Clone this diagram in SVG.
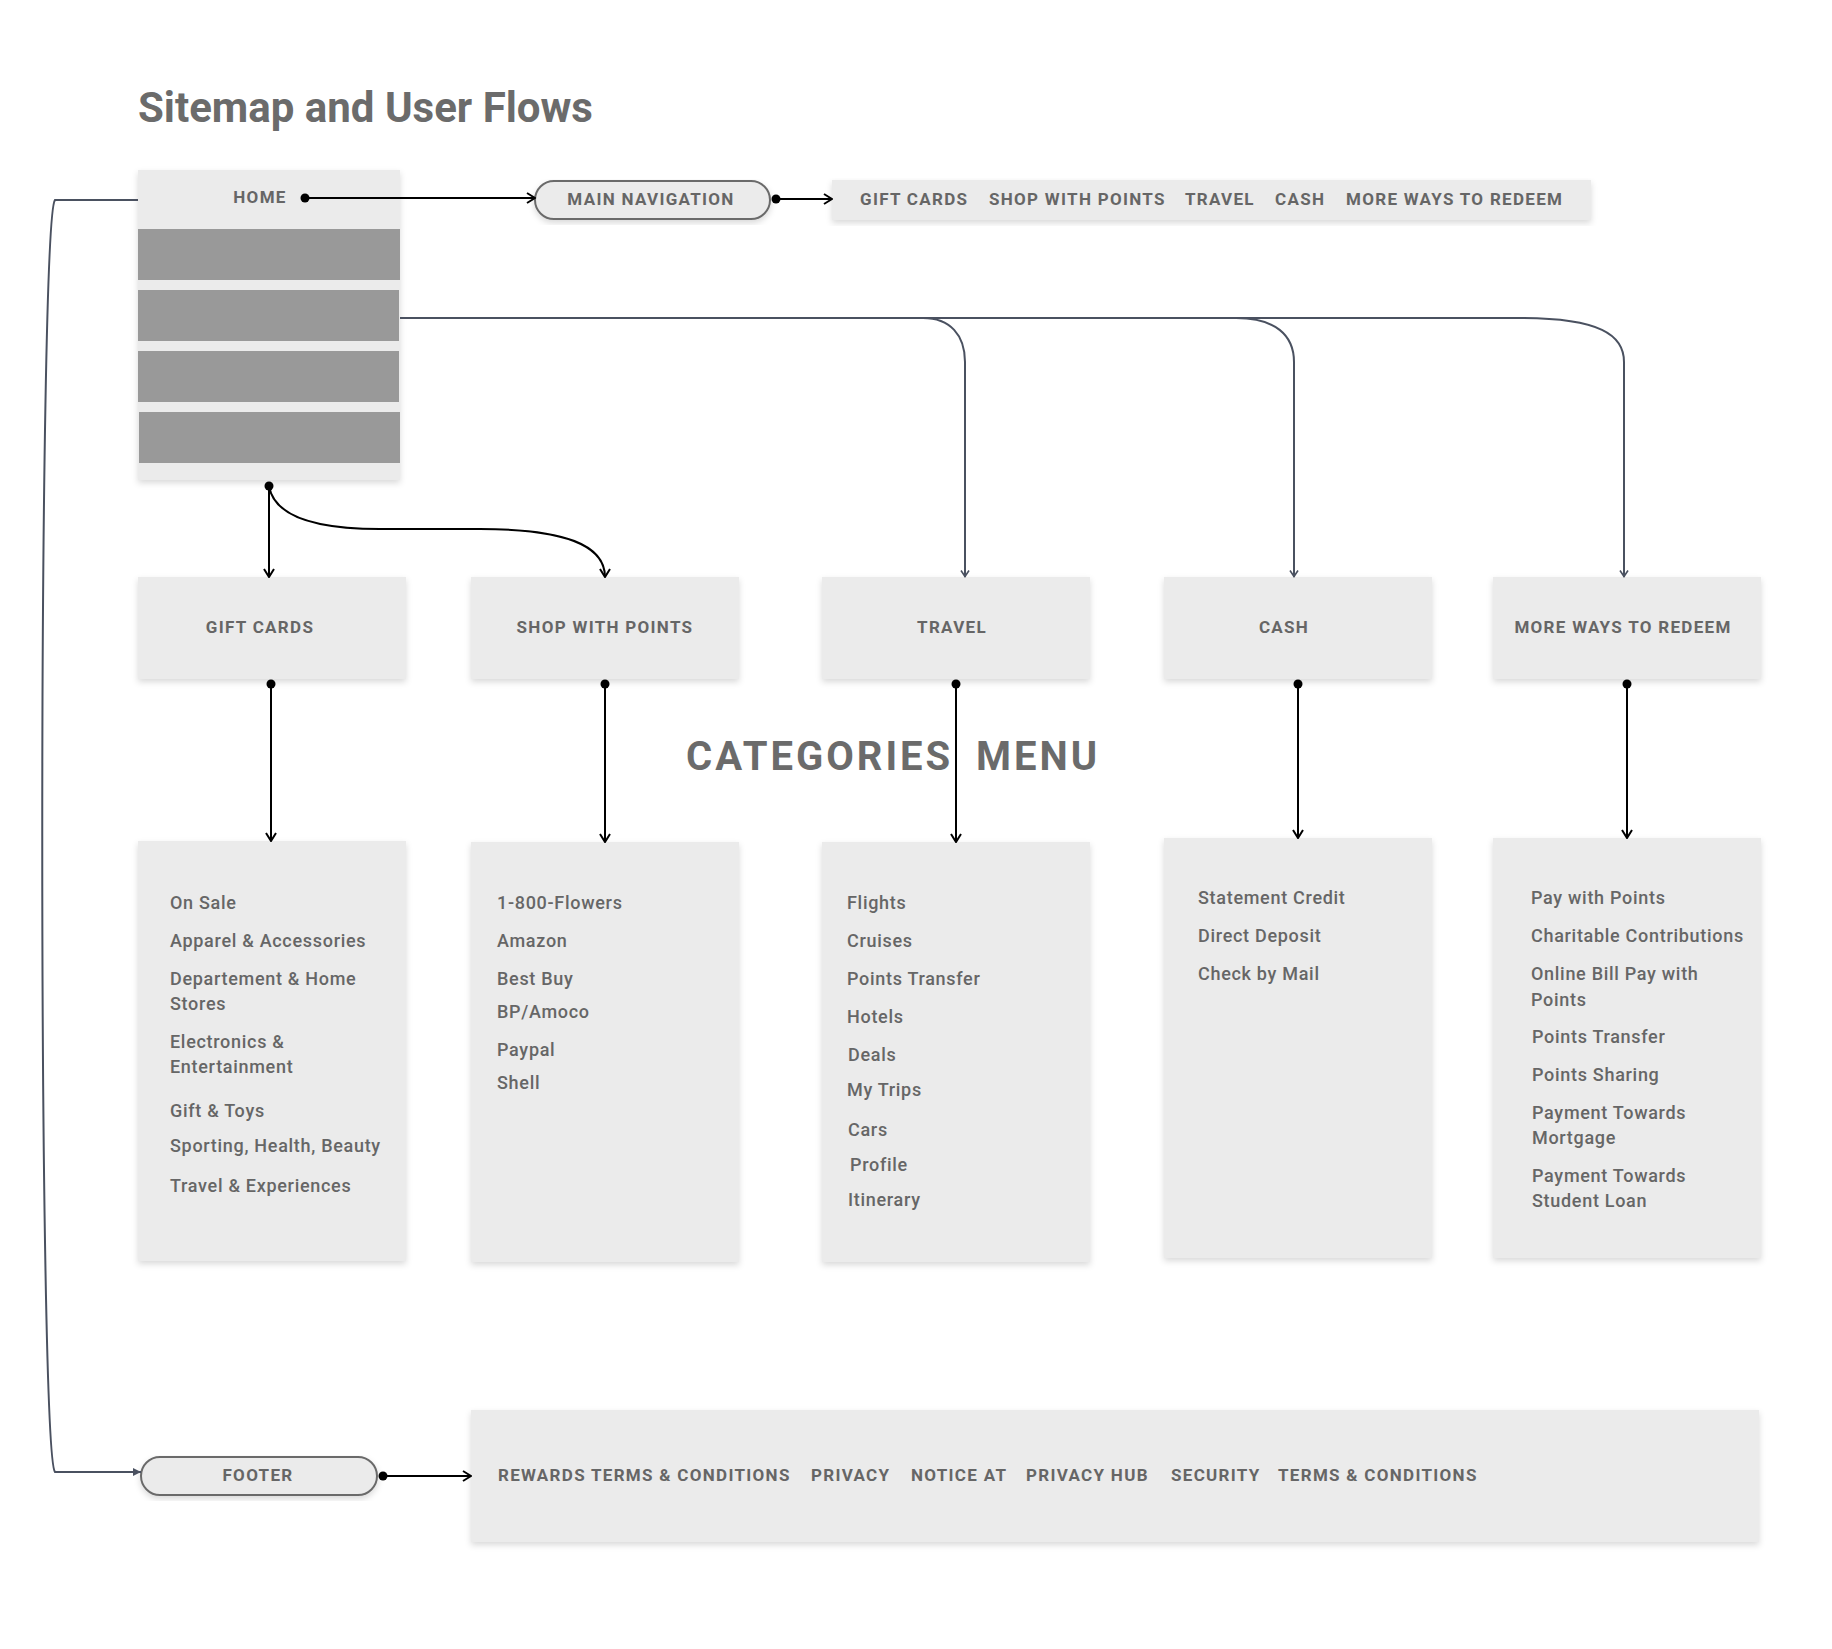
<svg xmlns="http://www.w3.org/2000/svg" width="1832" height="1649" viewBox="0 0 1832 1649">
<defs>
<filter id="sh" x="-5%" y="-5%" width="110%" height="120%"><feDropShadow dx="0" dy="3" stdDeviation="3" flood-color="#000" flood-opacity="0.15"/></filter>
<marker id="dot" viewBox="0 0 10 10" refX="5" refY="5" markerWidth="10" markerHeight="10" markerUnits="userSpaceOnUse"><circle cx="5" cy="5" r="4.5" fill="#000"/></marker>
<marker id="ah" viewBox="0 0 10 12" refX="9" refY="6" markerWidth="10" markerHeight="12" orient="auto" markerUnits="userSpaceOnUse"><path d="M1,1 L9,6 L1,11" fill="none" stroke="#000" stroke-width="2"/></marker>
<marker id="ahg" viewBox="0 0 8 10" refX="7.5" refY="5" markerWidth="8" markerHeight="10" orient="auto" markerUnits="userSpaceOnUse"><path d="M1,1 L7,5 L1,9" fill="none" stroke="#4a5160" stroke-width="1.6"/></marker>
<marker id="ahf" viewBox="0 0 8 10" refX="8" refY="5" markerWidth="8" markerHeight="10" orient="auto" markerUnits="userSpaceOnUse"><path d="M0,1 L8,5 L0,9 Z" fill="#4a5160"/></marker>
</defs>
<style>
.box{fill:#ebebeb;filter:url(#sh)}
.bar{fill:#999999}
.pill{fill:#ebebeb;stroke:#6b6b6b;stroke-width:2;filter:url(#sh)}
.title{font-family:Roboto,"Liberation Sans",sans-serif;font-weight:700;font-size:42px;fill:#6b6b6b}
.lbl{font-family:Roboto,"Liberation Sans",sans-serif;font-weight:700;font-size:17px;fill:#666666;letter-spacing:1.3px}
.mid{text-anchor:middle}
.item{font-family:Roboto,"Liberation Sans",sans-serif;font-weight:500;font-size:18px;fill:#666666;letter-spacing:0.7px}
.big{font-family:Roboto,"Liberation Sans",sans-serif;font-weight:700;font-size:40px;fill:#6b6b6b;letter-spacing:3px}
.blk{stroke:#000;stroke-width:2;fill:none}
.gry{stroke:#4a5160;stroke-width:2;fill:none}
</style>
<rect width="1832" height="1649" fill="#ffffff"/>
<text class="title" x="138" y="122">Sitemap and User Flows</text>

<g id="home">
<rect class="box" x="138" y="170" width="262" height="310"/>
<rect class="bar" x="138" y="229" width="262" height="51"/>
<rect class="bar" x="138" y="290" width="261" height="51"/>
<rect class="bar" x="138" y="351" width="261" height="51"/>
<rect class="bar" x="139" y="412" width="261" height="51"/>
<text class="lbl mid" x="260" y="203">HOME</text>
</g>

<g id="main-navigation">
<rect class="pill" x="535" y="181" width="235" height="38" rx="19"/>
<text class="lbl mid" x="651" y="205">MAIN NAVIGATION</text>
</g>

<g id="nav-bar">
<rect class="box" x="832" y="180" width="759" height="40"/>
<text class="lbl" x="860" y="205">GIFT CARDS</text>
<text class="lbl" x="989" y="205">SHOP WITH POINTS</text>
<text class="lbl" x="1185" y="205">TRAVEL</text>
<text class="lbl" x="1275" y="205">CASH</text>
<text class="lbl" x="1346" y="205">MORE WAYS TO REDEEM</text>
</g>

<g id="gift-cards">
<rect class="box" x="138" y="577" width="268" height="102"/>
<text class="lbl mid" x="260" y="633">GIFT CARDS</text>
</g>
<g id="shop-with-points">
<rect class="box" x="471" y="577" width="268" height="102"/>
<text class="lbl mid" x="605" y="633">SHOP WITH POINTS</text>
</g>
<g id="travel">
<rect class="box" x="822" y="577" width="268" height="102"/>
<text class="lbl mid" x="952" y="633">TRAVEL</text>
</g>
<g id="cash">
<rect class="box" x="1164" y="577" width="268" height="102"/>
<text class="lbl mid" x="1284" y="633">CASH</text>
</g>
<g id="more-ways">
<rect class="box" x="1493" y="577" width="268" height="102"/>
<text class="lbl mid" x="1623" y="633">MORE WAYS TO REDEEM</text>
</g>

<text class="big" y="770"><tspan x="686">CATEGORIES</tspan><tspan x="976">MENU</tspan></text>

<g id="gift-cards-list">
<rect class="box" x="138" y="841" width="268" height="420"/>
<text class="item" x="170" y="909">On Sale</text>
<text class="item" x="170" y="947">Apparel &amp; Accessories</text>
<text class="item" x="170" y="985">Departement &amp; Home</text>
<text class="item" x="170" y="1010">Stores</text>
<text class="item" x="170" y="1048">Electronics &amp;</text>
<text class="item" x="170" y="1073">Entertainment</text>
<text class="item" x="170" y="1117">Gift &amp; Toys</text>
<text class="item" x="170" y="1152">Sporting, Health, Beauty</text>
<text class="item" x="170" y="1192">Travel &amp; Experiences</text>
</g>
<g id="shop-list">
<rect class="box" x="471" y="842" width="268" height="420"/>
<text class="item" x="497" y="909">1-800-Flowers</text>
<text class="item" x="497" y="947">Amazon</text>
<text class="item" x="497" y="985">Best Buy</text>
<text class="item" x="497" y="1018">BP/Amoco</text>
<text class="item" x="497" y="1056">Paypal</text>
<text class="item" x="497" y="1089">Shell</text>
</g>
<g id="travel-list">
<rect class="box" x="822" y="842" width="268" height="420"/>
<text class="item" x="847" y="909">Flights</text>
<text class="item" x="847" y="947">Cruises</text>
<text class="item" x="847" y="985">Points Transfer</text>
<text class="item" x="847" y="1023">Hotels</text>
<text class="item" x="848" y="1061">Deals</text>
<text class="item" x="847" y="1096">My Trips</text>
<text class="item" x="848" y="1136">Cars</text>
<text class="item" x="850" y="1171">Profile</text>
<text class="item" x="848" y="1206">Itinerary</text>
</g>
<g id="cash-list">
<rect class="box" x="1164" y="838" width="268" height="420"/>
<text class="item" x="1198" y="904">Statement Credit</text>
<text class="item" x="1198" y="942">Direct Deposit</text>
<text class="item" x="1198" y="980">Check by Mail</text>
</g>
<g id="more-ways-list">
<rect class="box" x="1493" y="838" width="268" height="420"/>
<text class="item" x="1531" y="904">Pay with Points</text>
<text class="item" x="1531" y="942">Charitable Contributions</text>
<text class="item" x="1531" y="980">Online Bill Pay with</text>
<text class="item" x="1531" y="1006">Points</text>
<text class="item" x="1532" y="1043">Points Transfer</text>
<text class="item" x="1532" y="1081">Points Sharing</text>
<text class="item" x="1532" y="1119">Payment Towards</text>
<text class="item" x="1532" y="1144">Mortgage</text>
<text class="item" x="1532" y="1182">Payment Towards</text>
<text class="item" x="1532" y="1207">Student Loan</text>
</g>

<g id="footer">
<rect class="pill" x="141" y="1457" width="236" height="38" rx="19"/>
<text class="lbl mid" x="258" y="1481">FOOTER</text>
</g>
<g id="footer-links">
<rect class="box" x="471" y="1410" width="1288" height="132"/>
<text class="lbl" x="498" y="1481">REWARDS TERMS &amp; CONDITIONS</text>
<text class="lbl" x="811" y="1481">PRIVACY</text>
<text class="lbl" x="911" y="1481">NOTICE AT</text>
<text class="lbl" x="1026" y="1481">PRIVACY HUB</text>
<text class="lbl" x="1171" y="1481">SECURITY</text>
<text class="lbl" x="1278" y="1481">TERMS &amp; CONDITIONS</text>
</g>

<g id="connectors">
<path class="gry" d="M138,200 L55,200 C38,220 38,1452 55,1472 L141,1472" marker-end="url(#ahf)"/>
<path class="gry" d="M400,318 L923,318 C950,318 965,335 965,362 L965,577" marker-end="url(#ahg)"/>
<path class="gry" d="M400,318 L1236,318 C1275,318 1294,335 1294,362 L1294,577" marker-end="url(#ahg)"/>
<path class="gry" d="M400,318 L1520,318 C1600,318 1624,335 1624,362 L1624,577" marker-end="url(#ahg)"/>
<path class="blk" d="M305,198 L535,198" marker-start="url(#dot)" marker-end="url(#ah)"/>
<path class="blk" d="M776,199 L832,199" marker-start="url(#dot)" marker-end="url(#ah)"/>
<path class="blk" d="M269,486 L269,577" marker-start="url(#dot)" marker-end="url(#ah)"/>
<path class="blk" d="M269,486 C275,522 330,529 380,529 L480,529 C565,529 605,545 605,577" marker-end="url(#ah)"/>
<path class="blk" d="M271,684 L271,841" marker-start="url(#dot)" marker-end="url(#ah)"/>
<path class="blk" d="M605,684 L605,842" marker-start="url(#dot)" marker-end="url(#ah)"/>
<path class="blk" d="M956,684 L956,842" marker-start="url(#dot)" marker-end="url(#ah)"/>
<path class="blk" d="M1298,684 L1298,838" marker-start="url(#dot)" marker-end="url(#ah)"/>
<path class="blk" d="M1627,684 L1627,838" marker-start="url(#dot)" marker-end="url(#ah)"/>
<path class="blk" d="M383,1476 L471,1476" marker-start="url(#dot)" marker-end="url(#ah)"/>
</g>
</svg>
